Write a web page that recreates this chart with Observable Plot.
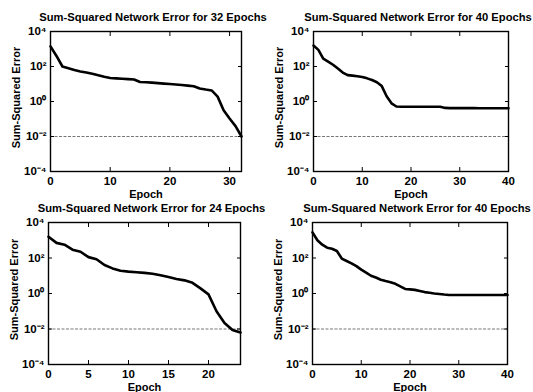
<!DOCTYPE html>
<html><head>
<meta charset="utf-8">
<script src="https://cdn.jsdelivr.net/npm/d3@7"></script>
<script src="https://cdn.jsdelivr.net/npm/@observablehq/plot@0.6"></script>
<style>
body{margin:0;background:#fff;}
#c{position:relative;width:533px;height:392px;overflow:hidden;background:#fff;}
#c svg{position:absolute;overflow:visible;}
</style></head><body><div id="c"></div>
<script>
// ---- data ----
const titles = [
  "Sum-Squared Network Error for 32 Epochs",
  "Sum-Squared Network Error for 40 Epochs",
  "Sum-Squared Network Error for 24 Epochs",
  "Sum-Squared Network Error for 40 Epochs"
];
const xLabel = "Epoch";
const yLabel = "Sum-Squared Error";
const goalError = 0.01;
const yTickValues = [1e-4, 1e-2, 1, 1e2, 1e4];
const yTickLabels = ["10\u207B\u2074", "10\u207B\u00B2", "10\u2070", "10\u00B2", "10\u2074"];

const epochs32 = [0,1,2,3,4,5,6,7,8,9,10,11,12,13,14,15,16,17,18,19,20,21,22,23,24,25,26,27,28,29,30,31,32];
const errors32 = [1410,400,100,79,63,52,45,38,32,26,22,21,20,19,18,13,12.6,12,11.2,10.5,10,9.3,8.7,8.1,7.4,5.5,4.8,4.3,1.9,0.32,0.107,0.039,0.01];
const xTicks32 = [0,10,20,30];

const epochs40a = [0,1,2,3,4,5,6,7,8,9,10,11,12,13,14,15,16,17,18,19,20,21,22,23,24,25,26,27,28,29,30,31,32,33,34,35,36,37,38,39,40];
const errors40a = [1580,890,280,190,126,76,45,32,30,28,25,21,17,12.6,7.6,2.0,0.79,0.52,0.5,0.5,0.5,0.5,0.5,0.5,0.5,0.5,0.5,0.43,0.42,0.42,0.42,0.42,0.42,0.42,0.41,0.41,0.41,0.41,0.41,0.41,0.41];
const xTicks40a = [0,10,20,30,40];

const epochs24 = [0,1,2,3,4,5,6,7,8,9,10,11,12,13,14,15,16,17,18,19,20,21,22,23,24];
const errors24 = [1580,710,560,295,224,112,85,40,26,19,17,15.8,14.5,12.9,10.7,8.5,6.6,5.5,4.0,1.95,0.89,0.1,0.022,0.0089,0.0063];
const xTicks24 = [0,5,10,15,20];

const epochs40b = [0,1,2,3,4,5,6,7,8,9,10,11,12,13,14,15,16,17,18,19,20,21,22,23,24,25,26,27,28,29,30,31,32,33,34,35,36,37,38,39,40];
const errors40b = [2800,1000,560,380,330,250,93,68,50,35,22,15,10,7.9,6.0,5.0,4.3,3.5,2.5,1.8,1.7,1.6,1.4,1.2,1.1,1.0,0.93,0.87,0.83,0.83,0.83,0.83,0.83,0.83,0.83,0.83,0.83,0.83,0.83,0.83,0.83];
const xTicks40b = [0,10,20,30,40];

// ---- drawing ----
const font = "'Liberation Sans', Arial, sans-serif";

function panel(cfg) {
  const data = cfg.epochs.map((e, i) => ({epoch: e, sse: cfg.errors[i]}));
  const maxE = cfg.epochs[cfg.epochs.length - 1];
  const fmtY = v => yTickLabels[yTickValues.indexOf(v)];
  const svg = Plot.plot({
    width: cfg.w, height: cfg.h,
    marginLeft: cfg.mL, marginRight: cfg.mR, marginTop: cfg.mT, marginBottom: cfg.mB,
    style: {fontFamily: font, fontWeight: "bold", fontSize: "11px", background: "transparent", overflow: "visible", color: "black"},
    x: {domain: [0, maxE]},
    y: {type: "log", domain: [1e-4, 1e4]},
    marks: [
      Plot.ruleY([goalError], {stroke: "#777", strokeWidth: 1, strokeDasharray: "3,1.5"}),
      Plot.line(data, {x: "epoch", y: "sse", stroke: "black", strokeWidth: 2.6}),
      Plot.frame({stroke: "black", strokeWidth: 1.4}),
      Plot.axisX({anchor: "bottom", ticks: cfg.xTicks, tickSize: 0, tickPadding: 5, label: null, fontSize: 11.5}),
      Plot.axisX({anchor: "bottom", ticks: cfg.xTicks, tickSize: -4, tickFormat: () => "", label: null}),
      Plot.axisX({anchor: "top", ticks: cfg.xTicks, tickSize: -4, tickFormat: () => "", label: null}),
      Plot.axisY({anchor: "left", ticks: yTickValues, tickSize: 0, tickPadding: 4, tickFormat: fmtY, label: null, fontSize: 11.5}),
      Plot.axisY({anchor: "left", ticks: yTickValues, tickSize: -4, tickFormat: () => "", label: null}),
      Plot.axisY({anchor: "right", ticks: yTickValues, tickSize: -4, tickFormat: () => "", label: null}),
      Plot.text([cfg.title], {frameAnchor: "top", textAnchor: "middle", lineAnchor: "middle", dy: -14, dx: 7, fontSize: 11.2, fontWeight: "bold", fill: "black"}),
      Plot.text([xLabel], {frameAnchor: "bottom", textAnchor: "middle", lineAnchor: "middle", dy: 23, fontSize: 11, fontWeight: "bold", fill: "black"}),
      Plot.text([yLabel], {frameAnchor: "left", textAnchor: "middle", lineAnchor: "middle", rotate: -90, dx: -34, dy: -4, fontSize: 11, fontWeight: "bold", fill: "black"})
    ]
  });
  svg.style.left = cfg.left + "px";
  svg.style.top = cfg.top + "px";
  document.getElementById("c").appendChild(svg);
}

panel({title: titles[0], epochs: epochs32, errors: errors32, xTicks: xTicks32, left: 0, top: 0, w: 266, h: 196, mL: 50, mR: 25, mT: 31, mB: 25});
panel({title: titles[1], epochs: epochs40a, errors: errors40a, xTicks: xTicks40a, left: 266, top: 0, w: 267, h: 196, mL: 47, mR: 25, mT: 31, mB: 25});
panel({title: titles[2], epochs: epochs24, errors: errors24, xTicks: xTicks24, left: 0, top: 196, w: 266, h: 196, mL: 48, mR: 26, mT: 26, mB: 28});
panel({title: titles[3], epochs: epochs40b, errors: errors40b, xTicks: xTicks40b, left: 266, top: 196, w: 267, h: 196, mL: 46, mR: 26, mT: 26, mB: 28});
</script>
</body></html>
